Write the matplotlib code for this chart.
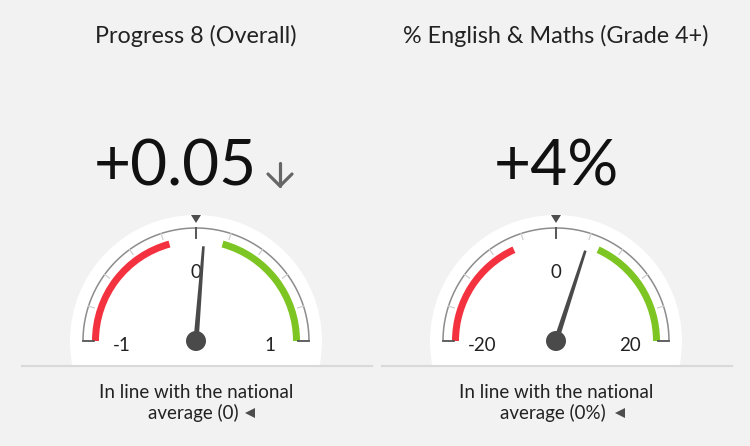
import matplotlib
matplotlib.use("Agg")
import matplotlib.pyplot as plt
from matplotlib.patches import Circle, Wedge, Rectangle, Polygon
import numpy as np

# ---------------- data ----------------
titles = ["Progress 8 (Overall)", "% English & Maths (Grade 4+)"]
values = [0.05, 4]
value_labels = ["+0.05", "+4%"]
trend = ["down", None]
scale_min = [-1, -20]
scale_max = [1, 20]
red_upper = [-0.17, -5.5]
green_lower = [0.17, 5.5]
national = [0, 0]
min_labels = ["-1", "-20"]
mid_labels = ["0", "0"]
max_labels = ["1", "20"]
caption_line1 = ["In line with the national", "In line with the national"]
caption_line2 = ["average (0)", "average (0%)"]

# ---------------- style ----------------
W, H = 750, 446
BG = "#f2f2f2"
RED = "#f4323f"
GREEN = "#7dc522"
DARK = "#4a4a4a"
FONT = "Lato"

fig = plt.figure(figsize=(W / 100, H / 100), dpi=100, facecolor=BG)
ax = fig.add_axes([0, 0, 1, 1])
ax.set_xlim(0, W)
ax.set_ylim(0, H)
ax.set_aspect("equal")
ax.axis("off")
ax.set_facecolor(BG)

def Y(ypix):
    return H - ypix

centers_x = [196, 556]
cy = Y(341)
R_OUT = 113
BAND_OUT, BAND_W = 104, 7
R_DISC = 126
sep_y = Y(366)

def angle(v, lo, hi):
    return 180.0 - (v - lo) / (hi - lo) * 180.0

def pol(cx, r, a):
    t = np.deg2rad(a)
    return cx + r * np.cos(t), cy + r * np.sin(t)

for i in range(2):
    cx = centers_x[i]
    lo, hi = scale_min[i], scale_max[i]

    # white disc clipped at separator
    disc = Circle((cx, cy), R_DISC, facecolor="white", edgecolor="none", zorder=1)
    ax.add_patch(disc)
    clip = Rectangle((0, sep_y), W, H, transform=ax.transData)
    disc.set_clip_path(clip)

    # coloured bands
    ax.add_patch(Wedge((cx, cy), BAND_OUT, angle(red_upper[i], lo, hi), 180,
                       width=BAND_W, facecolor=RED, edgecolor="none", zorder=2))
    ax.add_patch(Wedge((cx, cy), BAND_OUT, 0, angle(green_lower[i], lo, hi),
                       width=BAND_W, facecolor=GREEN, edgecolor="none", zorder=2))

    # outer arc
    th = np.linspace(0, 180, 200)
    xs, ys = pol(cx, R_OUT, th)
    ax.plot(xs, ys, color="#8c8c8c", lw=1.1, zorder=3, solid_capstyle="butt")
    # end caps
    for a in (0, 180):
        x0, y0 = pol(cx, R_OUT, a)
        x1, y1 = pol(cx, R_OUT - 11, a)
        ax.plot([x0, x1], [y0, y1], color="#555555", lw=1.3, zorder=3)

    # minor ticks
    for k in range(1, 10):
        a = k * 18
        if a == 90:
            continue
        x0, y0 = pol(cx, R_OUT, a)
        x1, y1 = pol(cx, R_OUT - 6, a)
        ax.plot([x0, x1], [y0, y1], color="#cfcfcf", lw=0.9, zorder=3)

    # national average tick + pointer
    a_nat = angle(national[i], lo, hi)
    x0, y0 = pol(cx, R_OUT, a_nat)
    x1, y1 = pol(cx, R_OUT - 10, a_nat)
    ax.plot([x0, x1], [y0, y1], color="#555555", lw=1.4, zorder=3)
    tx, ty = pol(cx, R_OUT + 9, a_nat)
    ax.add_patch(Polygon([[tx - 5, ty + 4], [tx + 5, ty + 4], [tx, ty - 4]],
                         closed=True, facecolor="#4d4d4d", edgecolor="none", zorder=3))

    # scale labels
    ax.text(cx, Y(278), mid_labels[i], ha="center", va="baseline",
            fontsize=13.5, family=FONT, color="#222222", zorder=4)
    ax.text(cx - 74, Y(351), min_labels[i], ha="center", va="baseline",
            fontsize=13.5, family=FONT, color="#222222", zorder=4)
    ax.text(cx + 74, Y(351), max_labels[i], ha="center", va="baseline",
            fontsize=13.5, family=FONT, color="#222222", zorder=4)

    # needle
    a = angle(values[i], lo, hi)
    t = np.deg2rad(a)
    ux, uy = np.cos(t), np.sin(t)
    px, py = -uy, ux
    L = 95
    pts = [[cx + px * 2.6, cy + py * 2.6],
           [cx + ux * L + px * 1.3, cy + uy * L + py * 1.3],
           [cx + ux * L - px * 1.3, cy + uy * L - py * 1.3],
           [cx - px * 2.6, cy - py * 2.6]]
    ax.add_patch(Polygon(pts, closed=True, facecolor=DARK, edgecolor="none", zorder=5))
    ax.add_patch(Circle((cx, cy), 10, facecolor=DARK, edgecolor="none", zorder=6))

    # title
    ax.text(cx, Y(43), titles[i], ha="center", va="baseline",
            fontsize=16.8, family=FONT, color="#222222")

    # separator
    ax.plot([cx - 174, cx + 176], [sep_y, sep_y], color="#d9d9d9", lw=1.5, zorder=7)

    # captions
    ax.text(cx, Y(398), caption_line1[i], ha="center", va="baseline",
            fontsize=13.5, family=FONT, color="#222222")
    ax.text(cx - 3, Y(419), caption_line2[i], ha="center", va="baseline",
            fontsize=13.5, family=FONT, color="#222222")

# big values
big_x = [175, 556]
for i in range(2):
    ax.text(big_x[i], Y(186), value_labels[i], ha="center", va="baseline",
            fontsize=46, family=FONT, color="#111111")

# trend arrow
for i in range(2):
    if trend[i] == "down":
        ax_x = 280
        ax.plot([ax_x, ax_x], [Y(163), Y(186)], color="#666666", lw=2.3,
                solid_capstyle="round")
        ax.plot([ax_x - 12, ax_x, ax_x + 12], [Y(174), Y(186), Y(174)],
                color="#666666", lw=2.3, solid_capstyle="round", solid_joinstyle="round")

# caption pointer triangles
for xm in (250, 620):
    ax.plot([xm], [Y(413)], marker="<", markersize=7.5, color="#4d4d4d",
            markeredgewidth=0)

fig.savefig("out.png", dpi=100, facecolor=BG)
